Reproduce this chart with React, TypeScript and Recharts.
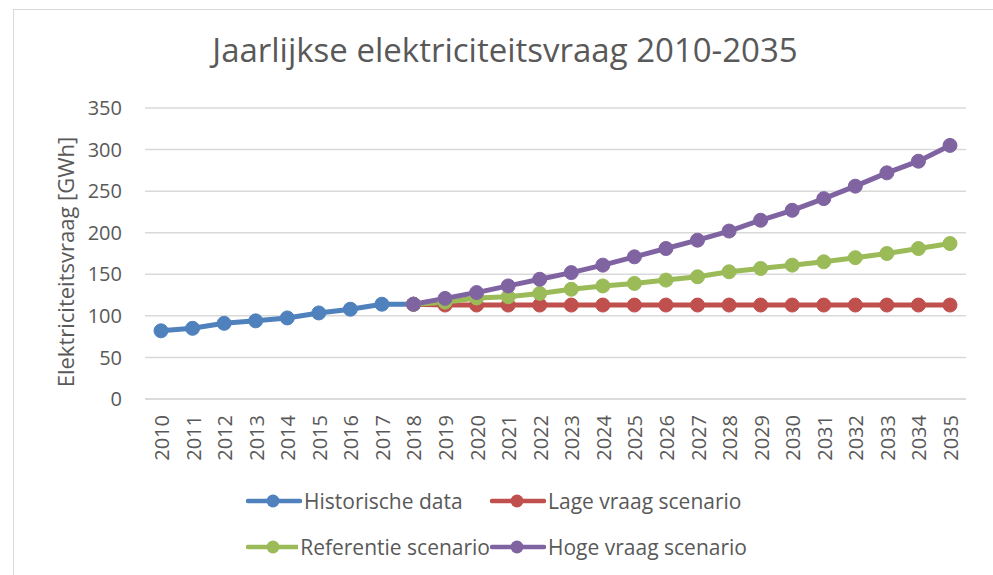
import React from "react"
import { LineChart, Line, XAxis, YAxis, CartesianGrid, Legend } from "recharts"

const years = [
  "2010", "2011", "2012", "2013", "2014", "2015", "2016", "2017", "2018",
  "2019", "2020", "2021", "2022", "2023", "2024", "2025", "2026", "2027",
  "2028", "2029", "2030", "2031", "2032", "2033", "2034", "2035",
]

// GWh, null where the series has no value
const historisch = [82, 85, 91, 94, 97.5, 103.5, 108, 114, 114]
const lageVraag = [114, 113, 113, 113, 113, 113, 113, 113, 113, 113, 113, 113, 113, 113, 113, 113, 113, 113]
const referentie = [114, 116.5, 121.5, 123, 127, 132, 136, 139, 143, 147, 153, 157, 161, 165, 170, 175, 181, 187]
const hogeVraag = [114, 121, 128, 136, 144, 152, 161, 171, 181, 191, 202, 215, 227, 241, 256, 272, 286, 305]

const yTicks = [0, 50, 100, 150, 200, 250, 300, 350]

const series = [
  { key: "historisch", name: "Historische data", color: "#4F81BD" },
  { key: "lage", name: "Lage vraag scenario", color: "#C0504D" },
  { key: "referentie", name: "Referentie scenario", color: "#9BBB59" },
  { key: "hoge", name: "Hoge vraag scenario", color: "#8064A2" },
]

const scenarioStart = historisch.length - 1

const data = years.map((year, i) => ({
  year,
  historisch: i < historisch.length ? historisch[i] : null,
  lage: i >= scenarioStart ? lageVraag[i - scenarioStart] : null,
  referentie: i >= scenarioStart ? referentie[i - scenarioStart] : null,
  hoge: i >= scenarioStart ? hogeVraag[i - scenarioStart] : null,
}))

const FONT = "'Open Sans', sans-serif"
const TEXT = "#595959"

function YearTick({ x, payload }: any) {
  return (
    <text
      x={x + 8}
      y={415}
      transform={`rotate(-90, ${x + 8}, 415)`}
      textAnchor="end"
      fill={TEXT}
      fontSize={20}
      fontFamily={FONT}
    >
      {payload.value}
    </text>
  )
}

function LegendItem({ name, color }: { name: string; color: string }) {
  return (
    <div style={{ display: "flex", alignItems: "center", height: 24 }}>
      <svg width={56} height={16} style={{ marginRight: 2 }}>
        <line x1={2} y1={8} x2={54} y2={8} stroke={color} strokeWidth={4.5} strokeLinecap="round" />
        <circle cx={27} cy={8} r={6.5} fill={color} />
      </svg>
      <span style={{ fontSize: 21, color: TEXT, fontFamily: FONT, whiteSpace: "nowrap" }}>{name}</span>
    </div>
  )
}

function ChartLegend() {
  return (
    <div
      style={{
        display: "grid",
        gridTemplateColumns: "244px 260px",
        rowGap: 22,
      }}
    >
      {series.map((s) => (
        <LegendItem key={s.key} name={s.name} color={s.color} />
      ))}
    </div>
  )
}

export default function App() {
  return (
    <div style={{ position: "absolute", left: 0, top: 0, width: 993, height: 575, background: "#fff", overflow: "hidden" }}>
      <div
        style={{
          position: "absolute",
          left: 13,
          top: 9,
          width: 1000,
          height: 600,
          borderLeft: "1px solid #d9d9d9",
          borderTop: "1px solid #d9d9d9",
        }}
      />
      <div
        style={{
          position: "absolute",
          left: 0,
          width: 1010,
          top: 27,
          textAlign: "center",
          fontFamily: FONT,
          fontSize: 33,
          color: TEXT,
          whiteSpace: "nowrap",
        }}
      >
        Jaarlijkse elektriciteitsvraag 2010-2035
      </div>
      <div
        style={{
          position: "absolute",
          left: 65,
          top: 262,
          transform: "translate(-50%, -50%) rotate(-90deg)",
          fontFamily: FONT,
          fontSize: 22,
          color: TEXT,
          whiteSpace: "nowrap",
        }}
      >
        Elektriciteitsvraag [GWh]
      </div>
      <LineChart
        width={993}
        height={575}
        data={data}
        margin={{ top: 108, right: 27, left: 0, bottom: 36 }}
        style={{ position: "absolute", left: 0, top: 0 }}
      >
        <CartesianGrid vertical={false} stroke="#d9d9d9" strokeWidth={1.5} />
        <XAxis
          dataKey="year"
          tick={<YearTick />}
          tickLine={false}
          axisLine={{ stroke: "#d9d9d9", strokeWidth: 1.5 }}
          interval={0}
          height={70}
          padding={{ left: 16, right: 16 }}
        />
        <YAxis
          domain={[0, 350]}
          ticks={yTicks}
          width={145}
          tickLine={false}
          axisLine={false}
          tickMargin={17}
          tick={{ fill: TEXT, fontSize: 20, fontFamily: FONT }}
        />
        <Legend
          content={<ChartLegend />}
          wrapperStyle={{ position: "absolute", left: 246, top: 489, width: 520 }}
        />
        {series.map((s) => (
          <Line
            key={s.key}
            dataKey={s.key}
            name={s.name}
            stroke={s.color}
            strokeWidth={5}
            dot={{ r: 7, fill: s.color, stroke: s.color, strokeWidth: 1 }}
            activeDot={false}
            connectNulls={false}
            isAnimationActive={false}
          />
        ))}
      </LineChart>
    </div>
  )
}
